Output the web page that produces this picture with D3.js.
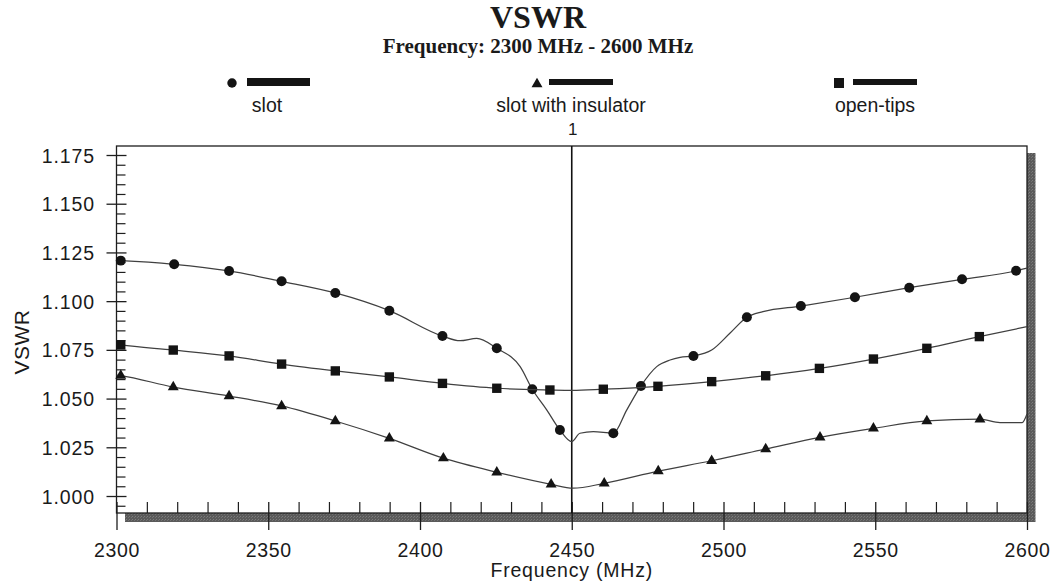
<!DOCTYPE html>
<html>
<head>
<meta charset="utf-8">
<script src="https://cdn.jsdelivr.net/npm/d3@7"></script>
<style>
  html, body { margin: 0; padding: 0; background: #ffffff; }
  svg { display: block; }
  text { font-family: "Liberation Sans", Arial, sans-serif; fill: #1a1a1a; }
  .serif { font-family: "Liberation Serif", "Times New Roman", serif; font-weight: bold; }
</style>
</head>
<body>
<svg id="chart" width="1056" height="585"></svg>
<script>
// ---- Axis ticks ----
const xMajorTicks = [2300, 2350, 2400, 2450, 2500, 2550, 2600];
const yMajorTicks = [1.000, 1.025, 1.050, 1.075, 1.100, 1.125, 1.150, 1.175];
const markerFreq = 2450;
const markerLabel = "1";

// ---- slot (circles) ----
const slotMarkFreq = [2301.4, 2319.0, 2337.1, 2354.4, 2372.1, 2389.9, 2407.4, 2425.3, 2437.0, 2446.1,
                      2463.7, 2472.8, 2490.1, 2507.7, 2525.5, 2543.3, 2561.2, 2578.6, 2596.4];
const slotMarkVswr = [1.1208, 1.1189, 1.1155, 1.1102, 1.1042, 1.0951, 1.0821, 1.0758, 1.0548, 1.0339,
                      1.0322, 1.0565, 1.0719, 1.0917, 1.0975, 1.1020, 1.1069, 1.1112, 1.1156];
const slotTraceFreq = [2300.0, 2413.2, 2418.7, 2433.0, 2441.8, 2450.0, 2452.7, 2457.1, 2468.1,
                       2478.0, 2482.4, 2485.7, 2496.1, 2502.1, 2513.0, 2600.0];
const slotTraceVswr = [1.1209, 1.0797, 1.0809, 1.0664, 1.0441, 1.0279, 1.0322, 1.0330, 1.0441,
                       1.0664, 1.0698, 1.0712, 1.0749, 1.0835, 1.0946, 1.1170];

// ---- slot with insulator (triangles) ----
const insMarkFreq = [2301.4, 2318.7, 2337.1, 2354.4, 2372.1, 2389.9, 2407.7, 2425.3, 2443.2,
                     2460.7, 2478.5, 2496.1, 2513.9, 2531.8, 2549.4, 2567.0, 2584.5];
const insMarkVswr = [1.0618, 1.0559, 1.0513, 1.0462, 1.0385, 1.0296, 1.0194, 1.0122, 1.0060,
                     1.0065, 1.0128, 1.0181, 1.0241, 1.0301, 1.0347, 1.0385, 1.0394];
const insTraceFreq = [2300.0, 2450.4, 2591.1, 2598.4, 2600.0];
const insTraceVswr = [1.0621, 1.0040, 1.0377, 1.0377, 1.0421];

// ---- open-tips (squares) ----
const openMarkFreq = [2301.4, 2318.7, 2337.1, 2354.4, 2372.1, 2389.9, 2407.4, 2425.3, 2442.8,
                      2460.4, 2478.4, 2496.1, 2513.9, 2531.6, 2549.4, 2567.0, 2584.3];
const openMarkVswr = [1.0775, 1.0749, 1.0719, 1.0677, 1.0642, 1.0611, 1.0578, 1.0553, 1.0544,
                      1.0548, 1.0563, 1.0587, 1.0617, 1.0655, 1.0703, 1.0758, 1.0818];
const openTraceFreq = [2300.0, 2450.1, 2600.0];
const openTraceVswr = [1.0778, 1.0542, 1.0869];

const seriesNames = ["slot", "slot with insulator", "open-tips"];

// ---- layout ----
const svg = d3.select("#chart");
const plot = { left: 116.5, right: 1027, top: 146, bottom: 513 };

const x = d3.scaleLinear().domain([2300, 2600]).range([plot.left, plot.right]);
const y = d3.scaleLinear().domain([0.99128, 1.17962]).range([plot.bottom, plot.top]);

// textured drop shadow behind the plot frame
const defs = svg.append("defs");
const pat = defs.append("pattern").attr("id", "shadeTex")
  .attr("width", 3).attr("height", 3).attr("patternUnits", "userSpaceOnUse");
pat.append("rect").attr("width", 3).attr("height", 3).attr("fill", "#5a5a5a");
pat.append("rect").attr("x", 0).attr("y", 0).attr("width", 1).attr("height", 1).attr("fill", "#7c7c7c");
pat.append("rect").attr("x", 2).attr("y", 1).attr("width", 1).attr("height", 1).attr("fill", "#727272");

svg.append("rect")
  .attr("x", plot.left + 8.5).attr("y", plot.top + 7)
  .attr("width", plot.right - plot.left).attr("height", plot.bottom - plot.top + 2)
  .attr("fill", "url(#shadeTex)");

svg.append("rect")
  .attr("x", plot.left).attr("y", plot.top)
  .attr("width", plot.right - plot.left).attr("height", plot.bottom - plot.top)
  .attr("fill", "#ffffff").attr("stroke", "#1e1e1e").attr("stroke-width", 1.3);

// ---- titles ----
svg.append("text").attr("class", "serif")
  .attr("x", 538).attr("y", 28).attr("text-anchor", "middle")
  .style("font-size", "32px").text("VSWR");
svg.append("text").attr("class", "serif")
  .attr("x", 538).attr("y", 53).attr("text-anchor", "middle")
  .style("font-size", "21px").text("Frequency: 2300 MHz - 2600 MHz");

// ---- y axis ----
const yMinorTicks = d3.range(0, 37).map(i => +(0.995 + i * 0.005).toFixed(3))
  .filter(v => v <= 1.179 && !yMajorTicks.some(m => Math.abs(m - v) < 1e-6));

const yAxisG = svg.append("g").attr("transform", `translate(${plot.left},0)`)
  .call(d3.axisLeft(y).tickValues(yMajorTicks).tickFormat(d3.format(".3f"))
    .tickSize(10).tickPadding(11.5));
yAxisG.select(".domain").remove();
yAxisG.selectAll(".tick line").attr("x1", 10).attr("x2", -10)
  .attr("stroke", "#1e1e1e").attr("stroke-width", 1.3);
yAxisG.selectAll(".tick text").attr("dy", "0.36em")
  .style("font-size", "19.5px").style("letter-spacing", "0.9px")
  .style("font-family", "'Liberation Sans', Arial, sans-serif").attr("fill", "#1a1a1a");

const yMinorG = svg.append("g").attr("transform", `translate(${plot.left},0)`)
  .call(d3.axisRight(y).tickValues(yMinorTicks).tickSize(9).tickFormat(""));
yMinorG.select(".domain").remove();
yMinorG.selectAll(".tick line").attr("stroke", "#1e1e1e").attr("stroke-width", 1.2);

// ---- x axis ----
const xMinorTicks = d3.range(2310, 2600, 10).filter(v => v % 50 !== 0);

const xAxisG = svg.append("g").attr("transform", `translate(0,${plot.bottom})`)
  .call(d3.axisBottom(x).tickValues(xMajorTicks).tickFormat(d3.format("d"))
    .tickSize(17).tickPadding(13));
xAxisG.select(".domain").remove();
xAxisG.selectAll(".tick line").attr("y1", -11).attr("y2", 17)
  .attr("stroke", "#1e1e1e").attr("stroke-width", 1.3);
xAxisG.selectAll(".tick text")
  .style("font-size", "19.5px").style("letter-spacing", "0.6px")
  .style("font-family", "'Liberation Sans', Arial, sans-serif").attr("fill", "#1a1a1a");

const xMinorG = svg.append("g").attr("transform", `translate(0,${plot.bottom})`)
  .call(d3.axisTop(x).tickValues(xMinorTicks).tickSize(11).tickFormat(""));
xMinorG.select(".domain").remove();
xMinorG.selectAll(".tick line").attr("stroke", "#1e1e1e").attr("stroke-width", 1.2);

// axis titles
svg.append("text")
  .attr("x", (plot.left + plot.right) / 2).attr("y", 577)
  .attr("text-anchor", "middle").style("font-size", "19.5px").style("letter-spacing", "0.8px")
  .text("Frequency (MHz)");
svg.append("text")
  .attr("transform", "translate(29,342) rotate(-90)")
  .attr("text-anchor", "middle").style("font-size", "21px").style("letter-spacing", "0.5px")
  .text("VSWR");

// ---- marker line at 2450 MHz ----
svg.append("line")
  .attr("x1", x(markerFreq)).attr("x2", x(markerFreq))
  .attr("y1", plot.top).attr("y2", plot.bottom)
  .attr("stroke", "#111").attr("stroke-width", 1.6);
svg.append("text")
  .attr("x", x(markerFreq) + 1).attr("y", 135).attr("text-anchor", "middle")
  .style("font-size", "17px").text(markerLabel);

// ---- curves ----
function mergeTrace(mf, mv, tf, tv) {
  const pts = mf.map((f, i) => [f, mv[i]]).concat(tf.map((f, i) => [f, tv[i]]));
  return pts.sort((a, b) => a[0] - b[0]);
}

const series = [
  { name: seriesNames[0], symbol: d3.symbolCircle, size: 78,
    trace: mergeTrace(slotMarkFreq, slotMarkVswr, slotTraceFreq, slotTraceVswr),
    marks: slotMarkFreq.map((f, i) => [f, slotMarkVswr[i]]) },
  { name: seriesNames[1], symbol: d3.symbolTriangle, size: 52,
    trace: mergeTrace(insMarkFreq, insMarkVswr, insTraceFreq, insTraceVswr),
    marks: insMarkFreq.map((f, i) => [f, insMarkVswr[i]]) },
  { name: seriesNames[2], symbol: d3.symbolSquare, size: 88,
    trace: mergeTrace(openMarkFreq, openMarkVswr, openTraceFreq, openTraceVswr),
    marks: openMarkFreq.map((f, i) => [f, openMarkVswr[i]]) }
];

const lineGen = d3.line().x(d => x(d[0])).y(d => y(d[1])).curve(d3.curveMonotoneX);
const curveG = svg.append("g");

series.forEach(s => {
  curveG.append("path").datum(s.trace)
    .attr("d", lineGen).attr("fill", "none")
    .attr("stroke", "#404040").attr("stroke-width", 1.25);
  curveG.selectAll(null).data(s.marks).enter().append("path")
    .attr("transform", d => `translate(${x(d[0])},${y(d[1])})`)
    .attr("d", d3.symbol().type(s.symbol).size(s.size)())
    .attr("fill", "#141414");
});

// ---- legend ----
const legendItems = [
  { label: seriesNames[0], cx: 267, symX: 232, barX1: 247, barX2: 310, barH: 8, symbol: d3.symbolCircle, size: 70 },
  { label: seriesNames[1], cx: 571, symX: 537, barX1: 549, barX2: 613, barH: 6, symbol: d3.symbolTriangle, size: 52 },
  { label: seriesNames[2], cx: 875, symX: 839, barX1: 853, barX2: 917, barH: 6, symbol: d3.symbolSquare, size: 100 }
];
const legendG = svg.append("g");
legendItems.forEach(it => {
  legendG.append("path")
    .attr("transform", `translate(${it.symX},${it.symbol === d3.symbolTriangle ? 84 : 83})`)
    .attr("d", d3.symbol().type(it.symbol).size(it.size)())
    .attr("fill", "#141414");
  legendG.append("rect")
    .attr("x", it.barX1).attr("y", 82 - it.barH / 2)
    .attr("width", it.barX2 - it.barX1).attr("height", it.barH)
    .attr("fill", "#141414");
  legendG.append("text")
    .attr("x", it.cx).attr("y", 112).attr("text-anchor", "middle")
    .style("font-size", "19.5px").text(it.label);
});
</script>
</body>
</html>
